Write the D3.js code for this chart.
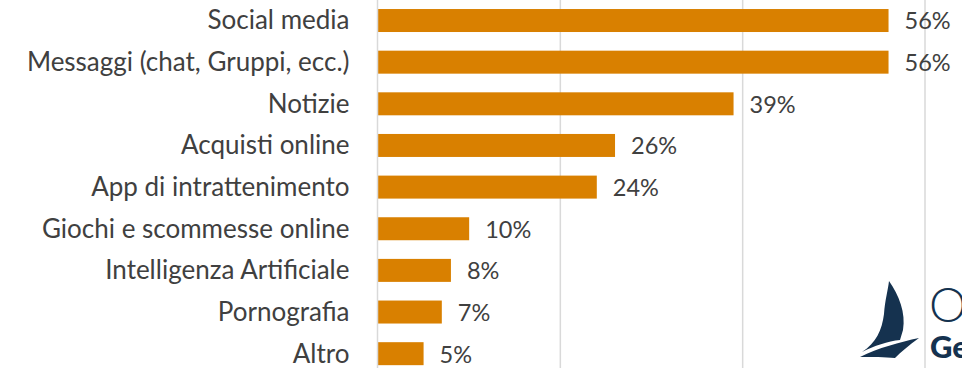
<!DOCTYPE html>
<html>
<head>
<meta charset="utf-8">
<script src="https://cdn.jsdelivr.net/npm/d3@7"></script>
<style>
  html, body { margin: 0; padding: 0; background: #ffffff; }
  svg { display: block; }
  text { font-family: Lato, "Open Sans", sans-serif; }
</style>
</head>
<body>
<svg id="chart" width="962" height="368"></svg>
<script>
// Categories, top to bottom
const categories = [
  "Social media",
  "Messaggi (chat, Gruppi, ecc.)",
  "Notizie",
  "Acquisti online",
  "App di intrattenimento",
  "Giochi e scommesse online",
  "Intelligenza Artificiale",
  "Pornografia",
  "Altro"
];
// Share of respondents, percent
const values = [56, 56, 39, 26, 24, 10, 8, 7, 5];
// Vertical gridlines, percent
const gridTicks = [20, 40, 60];

const W = 962, H = 368;
const svg = d3.select("#chart");

const x = d3.scaleLinear().domain([0, 60]).range([378, 925]);
const y = d3.scaleBand()
  .domain(categories)
  .range([-0.3, 374.5])
  .paddingInner(0.448)
  .paddingOuter(0.224);

const barColor = "#d98000";
const textColor = "#404040";
const gridColor = "#d9d9d9";

// gridlines
svg.append("g")
  .selectAll("line")
  .data(gridTicks)
  .join("line")
  .attr("x1", d => x(d)).attr("x2", d => x(d))
  .attr("y1", 0).attr("y2", H)
  .attr("stroke", gridColor)
  .attr("stroke-width", 1.5);

// bars
svg.append("g")
  .selectAll("rect")
  .data(values)
  .join("rect")
  .attr("x", x(0))
  .attr("y", (d, i) => y(categories[i]))
  .attr("width", d => x(d) - x(0))
  .attr("height", y.bandwidth())
  .attr("fill", barColor);

// category axis on the left
const yAxis = d3.axisLeft(y).tickSize(0).tickPadding(28);
const gy = svg.append("g")
  .attr("transform", `translate(${x(0) - 0.5},0)`)
  .call(yAxis);
gy.select(".domain")
  .attr("d", `M0,0V${H}`)
  .attr("stroke", gridColor)
  .attr("stroke-width", 1.5);
gy.selectAll(".tick text")
  .attr("font-size", 26)
  .attr("font-family", "Lato, 'Open Sans', sans-serif")
  .attr("dy", "0.34em")
  .attr("fill", textColor);

// value labels
svg.append("g")
  .selectAll("text")
  .data(values)
  .join("text")
  .attr("x", d => x(d) + 16)
  .attr("y", (d, i) => y(categories[i]) + y.bandwidth() / 2)
  .attr("dy", "0.38em")
  .attr("font-size", 23.5)
  .attr("fill", textColor)
  .text(d => d + "%");

// organisation mark in the lower right corner
const logoColor = "#15324f";
const logo = svg.append("g");
logo.append("path")
  .attr("d", "M889,281 C899,295 906,313 903,330 L900,340 C888,341 874,346 862,352 C876,343 882,330 884,314 C885,300 888,290 889,281 Z")
  .attr("fill", logoColor);
logo.append("path")
  .attr("d", "M860,357 C878,348 900,342 919,338 C909,345 901,352 895,358 C885,357 872,357 860,357 Z")
  .attr("fill", logoColor);
logo.append("text")
  .attr("x", 929).attr("y", 322)
  .attr("font-size", 48)
  .attr("font-weight", 300)
  .attr("fill", logoColor)
  .text("O");
logo.append("text")
  .attr("x", 930).attr("y", 358)
  .attr("font-size", 31)
  .attr("font-weight", 900)
  .attr("fill", logoColor)
  .text("Ge");
</script>
</body>
</html>
